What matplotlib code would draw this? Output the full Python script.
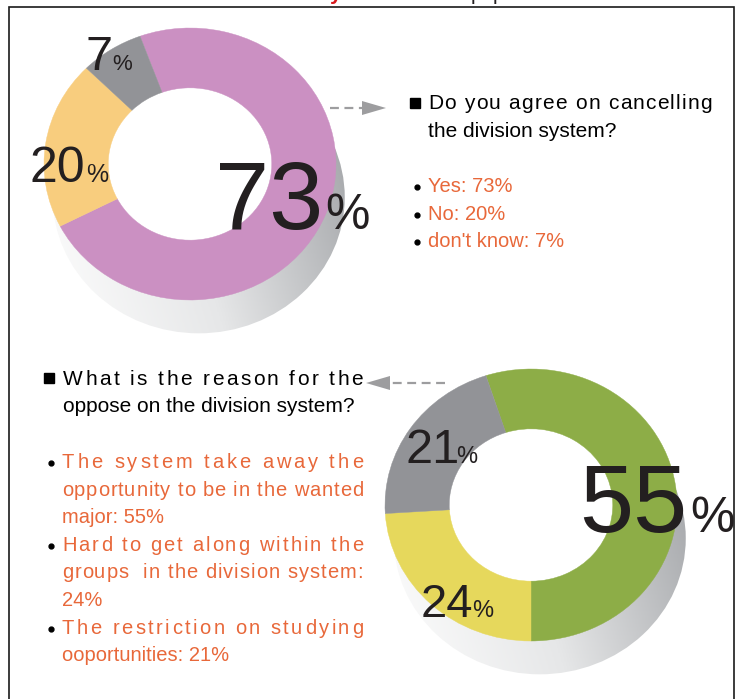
import numpy as np
import matplotlib
matplotlib.use("Agg")
import matplotlib.pyplot as plt
from matplotlib.patches import Circle, Polygon
from matplotlib.colors import LinearSegmentedColormap
from matplotlib.font_manager import FontProperties, findfont
from matplotlib.ft2font import FT2Font

W, H, DPI = 740, 699, 100
FONT = "Liberation Sans"
ORANGE = "#e8683a"
INK = "#231f20"

# question 1
q1_title = "Do you agree on cancelling\nthe division system?"
q1_labels = ["Yes", "No", "don't know"]
q1_values = [73, 20, 7]

# question 2
q2_title = "What is the reason for the\noppose on the division system?"
q2_labels = ["The system take away the opportunity to be in the wanted major",
             "Hard to get along within the groups  in the division system",
             "The restriction on studying ooportunities"]
q2_values = [55, 24, 21]

q1_colors = ["#cb90c2", "#f8cd7e", "#929397"]
q2_colors = ["#8dad47", "#e6d85c", "#929397"]

# donut geometry (pixels): the picture is a little wider than tall
RX, RY = 146, 136
HOLE = 0.56
SH_DX, SH_DY = 0.06, -0.245

_ft = FT2Font(findfont(FontProperties(family=FONT)))


def advances(s, size):
    _ft.set_size(size, DPI)
    return [_ft.load_char(ord(c)).linearHoriAdvance / 65536 for c in s]


def wrap(text, size, width):
    lines, cur = [], None
    for w in text.split(" "):
        trial = w if cur is None else cur + " " + w
        if cur is not None and sum(advances(trial, size)) > width:
            lines.append(cur)
            cur = w
        else:
            cur = trial
    lines.append(cur)
    return lines


def justify(ax, line, x0, x1, y, size, color):
    adv = advances(line, size)
    gap = (x1 - x0 - sum(adv)) / max(len(line) - 1, 1)
    x = x0
    for ch, a in zip(line, adv):
        if ch != " ":
            ax.text(x, y, ch, fontsize=size, color=color, family=FONT,
                    ha="left", va="baseline")
        x += a + gap


def paragraph(ax, lines, x0, x1, y0, step, size, color):
    for i, line in enumerate(lines):
        y = y0 + i * step
        if i < len(lines) - 1:
            justify(ax, line, x0, x1, y, size, color)
        else:
            ax.text(x0, y, line, fontsize=size, color=color, family=FONT,
                    ha="left", va="baseline")


shadow_cmap = LinearSegmentedColormap.from_list("sh", ["#fdfdfd", "#e6e7e8", "#a9abae"])


def donut(cx, cy, values, colors, start):
    L = 1.4
    ax = fig.add_axes([(cx - L * RX) / W, 1 - (cy + L * RY) / H,
                       2 * L * RX / W, 2 * L * RY / H])
    xs = np.linspace(-L, L, 300)
    gx, gy = np.meshgrid(xs, xs)
    t = np.clip((gx - SH_DX + 1) / 2 * 0.85 + (gy - SH_DY + 1) / 2 * 0.25, 0, 1)
    im = ax.imshow(t, extent=(-L, L, -L, L), origin="lower", cmap=shadow_cmap,
                   vmin=0, vmax=1, aspect="auto", zorder=0, interpolation="bilinear")
    im.set_clip_path(Circle((SH_DX, SH_DY), 1.0, transform=ax.transData))
    ax.add_patch(Circle((0, 0), HOLE + 0.01, color="white", lw=0, zorder=0.5))
    wedges, _ = ax.pie(values, colors=colors, startangle=start, counterclock=False,
                       radius=1, wedgeprops=dict(width=1 - HOLE, linewidth=0.3))
    for w in wedges:
        w.set_edgecolor(w.get_facecolor())
    ax.set_xlim(-L, L)
    ax.set_ylim(-L, L)
    ax.set_aspect("auto")
    ax.axis("off")
    return ax


fig = plt.figure(figsize=(W / DPI, H / DPI), dpi=DPI)
donut(190, 164, q1_values, q1_colors, 110)
donut(531, 505, q2_values, q2_colors, 108)

ax = fig.add_axes([0, 0, 1, 1])
ax.set_xlim(0, W)
ax.set_ylim(H, 0)
ax.axis("off")

# frame
ax.plot([9, 9, 734, 734], [H + 5, 7, 7, H + 5], color="#1a1a1a", lw=1.2,
        solid_joinstyle="miter")
# bits of the heading cut off above the frame
ax.text(330, 0, "y", fontsize=15, color="#d7191c", family=FONT, weight="bold",
        ha="left", va="baseline")
ax.text(471, 0, "p", fontsize=15, color=INK, family=FONT, ha="left", va="baseline")
ax.text(493, 0, "p", fontsize=15, color=INK, family=FONT, ha="left", va="baseline")


def pct(x, y, value, size, px, psize):
    ax.text(x, y, str(value), fontsize=size, color=INK, family=FONT,
            ha="left", va="baseline")
    ax.text(px, y, "%", fontsize=psize, color=INK, family=FONT,
            ha="left", va="baseline")


# percentage labels: (x, baseline, size, % x, % size)
q1_pos = [(215, 229, 70, 325, 36), (30, 182, 36, 86, 18), (86, 70, 35, 112, 16)]
q2_pos = [(579, 532, 70, 690, 36), (421, 617, 34, 472, 17), (405, 463, 35, 456, 17)]
for v, p in zip(q1_values, q1_pos):
    pct(p[0], p[1], v, p[2], p[3], p[4])
for v, p in zip(q2_values, q2_pos):
    pct(p[0], p[1], v, p[2], p[3], p[4])

# arrows
ax.plot([330, 364], [108, 108], color="#9d9d9f", lw=1.6, dashes=(4, 2.5))
ax.add_patch(Polygon([[362, 101], [386, 108], [362, 115]], closed=True,
                     color="#9d9d9f", lw=0))
ax.plot([445, 388], [383, 383], color="#9d9d9f", lw=1.6, dashes=(4, 2.5))
ax.add_patch(Polygon([[390, 376], [366, 383], [390, 390]], closed=True,
                     color="#9d9d9f", lw=0))

HS, IS, STEP = 15, 14.5, 27.6

# question 1 text
ax.plot(415, 103, marker="s", ms=7.2, color="black")
paragraph(ax, q1_title.split("\n"), 428, 712, 109, 28, HS, "black")
for i, (lab, v) in enumerate(zip(q1_labels, q1_values)):
    y = 192 + i * 27.5
    ax.plot(417, y - 5, marker="o", ms=3.5, color="black")
    ax.text(428, y, f"{lab}: {v}%", fontsize=IS, color=ORANGE, family=FONT,
            ha="left", va="baseline")

# question 2 text
ax.plot(49, 378, marker="s", ms=7.2, color="black")
paragraph(ax, q2_title.split("\n"), 63, 363, 385, 27, HS, "black")
y = 468
for lab, v in zip(q2_labels, q2_values):
    lines = wrap(f"{lab}: {v}%", IS, 301)
    ax.plot(51, y - 5, marker="o", ms=3.5, color="black")
    paragraph(ax, lines, 62, 363, y, STEP, IS, ORANGE)
    y += STEP * len(lines)

fig.savefig("out.png", dpi=DPI)
